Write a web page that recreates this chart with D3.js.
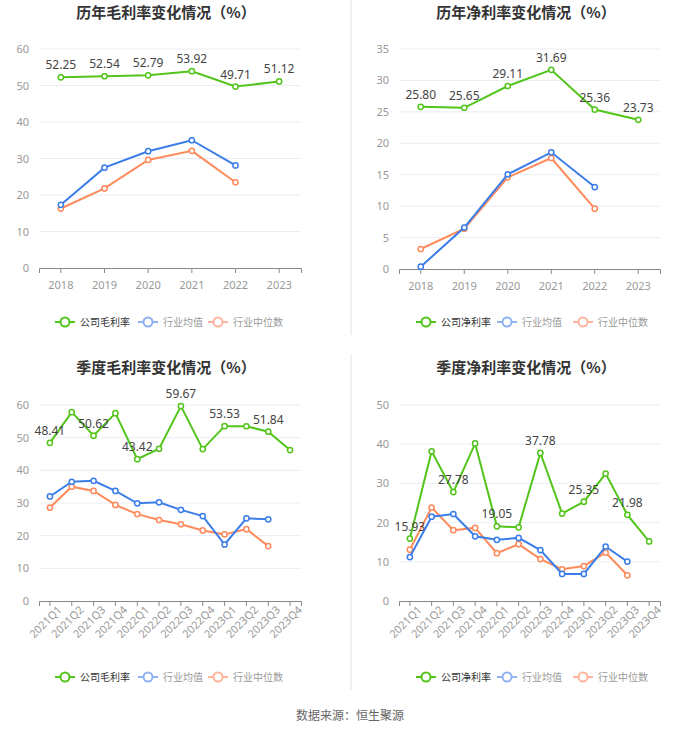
<!DOCTYPE html>
<html>
<head>
<meta charset="utf-8">
<script src="https://cdn.jsdelivr.net/npm/d3@7"></script>
<style>
  body { margin: 0; background: #fff; }
  svg { font-family: "Noto Sans CJK SC", "Noto Sans", sans-serif; }
</style>
</head>
<body>
<svg id="viz" width="700" height="733"></svg>
<script>
// === DATA ===
const years = ["2018", "2019", "2020", "2021", "2022", "2023"];
const quarters = ["2021Q1", "2021Q2", "2021Q3", "2021Q4", "2022Q1", "2022Q2",
  "2022Q3", "2022Q4", "2023Q1", "2023Q2", "2023Q3", "2023Q4"];

const grossCompany = [52.25, 52.54, 52.79, 53.92, 49.71, 51.12];
const grossAvg = [17.3, 27.5, 32.0, 35.0, 28.1];
const grossMedian = [16.3, 21.8, 29.6, 32.1, 23.5];

const netCompany = [25.80, 25.65, 29.11, 31.69, 25.36, 23.73];
const netAvg = [0.37, 6.6, 15.06, 18.56, 13.04];
const netMedian = [3.18, 6.4, 14.58, 17.66, 9.6];

const qGrossCompany = [48.41, 57.8, 50.62, 57.5, 43.42, 46.6, 59.67, 46.5, 53.53, 53.5, 51.84, 46.2];
const qGrossAvg = [32.0, 36.5, 36.8, 33.7, 29.9, 30.2, 27.9, 26.0, 17.3, 25.3, 25.0];
const qGrossMedian = [28.6, 35.0, 33.7, 29.4, 26.6, 24.8, 23.5, 21.6, 20.4, 22.0, 16.8];

const qNetCompany = [15.93, 38.2, 27.78, 40.2, 19.05, 18.8, 37.78, 22.3, 25.35, 32.5, 21.98, 15.2];
const qNetAvg = [11.2, 21.5, 22.2, 16.5, 15.6, 16.1, 13.0, 6.9, 6.9, 13.9, 10.05];
const qNetMedian = [13.1, 23.85, 18.06, 18.65, 12.2, 14.5, 10.7, 8.1, 8.9, 12.35, 6.56];

const yTicksGross = [0, 10, 20, 30, 40, 50, 60];
const yTicksNet = [0, 5, 10, 15, 20, 25, 30, 35];
const yTicksQNet = [0, 10, 20, 30, 40, 50];

const GREEN = "#52c41a";
const BLUE = "#3b7de9";
const ORANGE = "#ff8a5b";

const svg = d3.select("#viz");

// dividers between panels
svg.append("line").attr("x1", 351).attr("x2", 351).attr("y1", 0).attr("y2", 335)
  .attr("stroke", "#f0f0f0").attr("stroke-width", 2);
svg.append("line").attr("x1", 351).attr("x2", 351).attr("y1", 355).attr("y2", 690)
  .attr("stroke", "#f0f0f0").attr("stroke-width", 2);

// === PANEL ===
function drawPanel(opt) {
  const g = svg.append("g");

  g.append("text")
    .attr("x", opt.titleX).attr("y", opt.titleY)
    .attr("text-anchor", "middle")
    .attr("font-size", 15).attr("font-weight", "bold").attr("fill", "#333")
    .text(opt.title);

  const x = d3.scaleBand().domain(opt.cats).range([opt.x0, opt.x1]);
  const y = d3.scaleLinear().domain([0, d3.max(opt.ticks)]).range([opt.y1, opt.y0]);
  const cx = d => x(d) + x.bandwidth() / 2;

  // grid
  g.selectAll(".grid").data(opt.ticks.slice(1)).enter().append("line")
    .attr("x1", opt.x0).attr("x2", opt.x1)
    .attr("y1", d => y(d)).attr("y2", d => y(d))
    .attr("stroke", "#e9edf5").attr("stroke-width", 1);

  // y axis labels
  const yAxis = d3.axisLeft(y).tickValues(opt.ticks).tickSize(0).tickPadding(10);
  const ya = g.append("g").attr("transform", `translate(${opt.x0},0)`).call(yAxis);
  ya.select(".domain").remove();
  ya.selectAll("text").attr("fill", "#999").attr("font-size", 11)
    .attr("font-family", "'Noto Sans', sans-serif");

  // x axis
  const xAxis = d3.axisBottom(x).tickSize(5).tickPadding(opt.rotate ? 4 : 8);
  const xa = g.append("g").attr("transform", `translate(0,${opt.y1})`).call(xAxis);
  xa.select(".domain").attr("stroke", "#888");
  xa.selectAll(".tick line").attr("stroke", "#888");
  const xt = xa.selectAll("text").attr("fill", "#999").attr("font-size", 11)
    .attr("font-family", "'Noto Sans', sans-serif");
  if (opt.rotate) {
    xt.attr("text-anchor", "end")
      .attr("dx", "0.2em").attr("dy", "0.6em")
      .attr("transform", "rotate(-45)");
  }

  const line = d3.line().x((d, i) => cx(opt.cats[i])).y(d => y(d));

  const series = [
    { vals: opt.median, color: ORANGE },
    { vals: opt.avg, color: BLUE },
    { vals: opt.company, color: GREEN }
  ];

  series.forEach(s => {
    g.append("path")
      .attr("d", line(s.vals))
      .attr("fill", "none").attr("stroke", s.color).attr("stroke-width", 2);
    g.selectAll(null).data(s.vals).enter().append("circle")
      .attr("cx", (d, i) => cx(opt.cats[i]))
      .attr("cy", d => y(d))
      .attr("r", 2.6)
      .attr("fill", "#fff").attr("stroke", s.color).attr("stroke-width", 1.5);
  });

  // value labels
  g.selectAll(".lbl").data(opt.company).enter()
    .filter((d, i) => i % opt.labelStep === 0)
    .append("text")
    .attr("x", (d, i) => cx(opt.cats[i * opt.labelStep]))
    .attr("y", d => y(d) - 8)
    .attr("text-anchor", "middle")
    .attr("font-size", 12).attr("fill", "#444")
    .attr("font-family", "'Noto Sans', sans-serif")
    .text(d => d.toFixed(2));

  // legend
  const items = [
    { name: opt.legendName, color: GREEN, text: "#333", x: opt.legX[0] },
    { name: "行业均值", color: "#8fb1f4", text: "#999", x: opt.legX[1] },
    { name: "行业中位数", color: "#ffb49b", text: "#999", x: opt.legX[2] }
  ];
  const lg = g.append("g");
  items.forEach(it => {
    lg.append("line")
      .attr("x1", it.x - 10).attr("x2", it.x + 10)
      .attr("y1", opt.legY).attr("y2", opt.legY)
      .attr("stroke", it.color).attr("stroke-width", 2);
    lg.append("circle")
      .attr("cx", it.x).attr("cy", opt.legY).attr("r", 4.5)
      .attr("fill", "#fff").attr("stroke", it.color).attr("stroke-width", 2);
    lg.append("text")
      .attr("x", it.x + 15).attr("y", opt.legY + 4)
      .attr("font-size", 10).attr("fill", it.text)
      .text(it.name);
  });
}

drawPanel({
  title: "历年毛利率变化情况（%）", titleX: 166, titleY: 18,
  cats: years, x0: 39, x1: 301, y0: 49, y1: 268, ticks: yTicksGross,
  company: grossCompany, avg: grossAvg, median: grossMedian,
  labelStep: 1, rotate: false,
  legendName: "公司毛利率", legY: 322, legX: [65, 148, 218]
});

drawPanel({
  title: "历年净利率变化情况（%）", titleX: 526, titleY: 18,
  cats: years, x0: 399, x1: 660, y0: 49, y1: 269, ticks: yTicksNet,
  company: netCompany, avg: netAvg, median: netMedian,
  labelStep: 1, rotate: false,
  legendName: "公司净利率", legY: 322, legX: [426, 507, 583]
});

drawPanel({
  title: "季度毛利率变化情况（%）", titleX: 166, titleY: 373,
  cats: quarters, x0: 39, x1: 301, y0: 405, y1: 601, ticks: yTicksGross,
  company: qGrossCompany, avg: qGrossAvg, median: qGrossMedian,
  labelStep: 2, rotate: true,
  legendName: "公司毛利率", legY: 677, legX: [65, 148, 218]
});

drawPanel({
  title: "季度净利率变化情况（%）", titleX: 526, titleY: 373,
  cats: quarters, x0: 399, x1: 660, y0: 405, y1: 601, ticks: yTicksQNet,
  company: qNetCompany, avg: qNetAvg, median: qNetMedian,
  labelStep: 2, rotate: true,
  legendName: "公司净利率", legY: 677, legX: [426, 507, 583]
});

// source
svg.append("text")
  .attr("x", 350).attr("y", 720)
  .attr("text-anchor", "middle")
  .attr("font-size", 12).attr("fill", "#666")
  .text("数据来源：恒生聚源");
</script>
</body>
</html>
